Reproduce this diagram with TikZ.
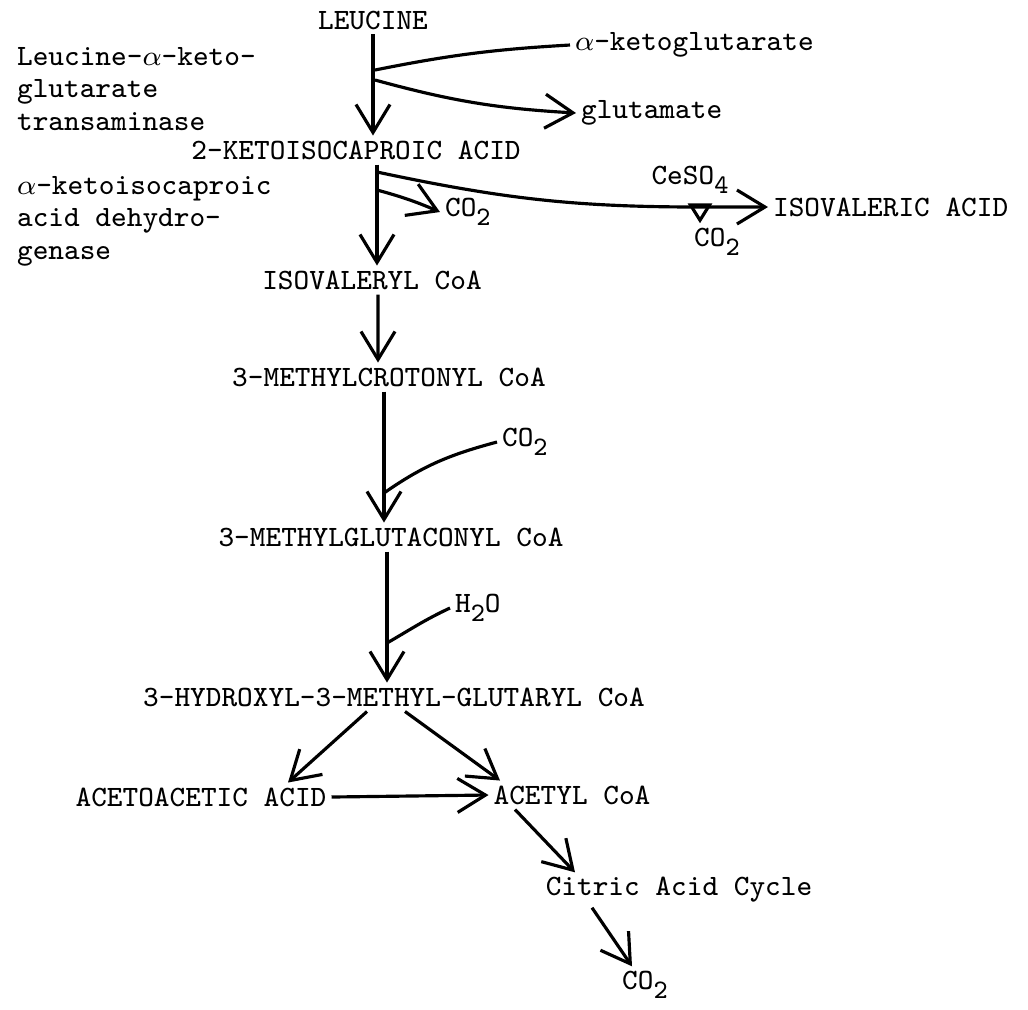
\documentclass[tikz,border=0pt]{standalone}
\usetikzlibrary{arrows.meta}
\newcommand{\lowsub}[1]{\raisebox{-0.7ex}{\fontsize{7.6}{8}\selectfont #1}}
\begin{document}
\begin{tikzpicture}[>={Straight Barb[length=2.8mm,width=3.4mm]}, line width=0.9pt,
    every node/.style={font=\fontsize{8.4}{9.2}\selectfont\ttfamily, inner sep=1pt}]
    \useasboundingbox (0,0) rectangle (10.28,-10.09);
    % main chain
    \node (leu) at (3.73,-0.20){LEUCINE};
    \node (keto) at (3.56,-1.50){2-KETOISOCAPROIC ACID};
    \node (isocoa) at (3.72,-2.80){ISOVALERYL CoA};
    \node (mcro) at (3.89,-3.77){3-METHYLCROTONYL CoA};
    \node (mglu) at (3.91,-5.37){3-METHYLGLUTACONYL CoA};
    \node (hmg) at (3.94,-6.97){3-HYDROXYL-3-METHYL-GLUTARYL CoA};
    \node (aceto) at (2.01,-7.97){ACETOACETIC ACID};
    \node (acetyl) at (5.72,-7.95){ACETYL CoA};
    \node (tca) at (6.79,-8.90){Citric Acid Cycle};
    \node (co2d) at (6.45,-9.85){CO\lowsub{2}};
    % side products
    \node (akg) at (5.70,-0.45)[right]{$\alpha$-ketoglutarate};
    \node (glu) at (5.76,-1.13)[right]{glutamate};
    \node (co2a) at (4.40,-2.12)[right]{CO\lowsub{2}};
    \node (isoac) at (7.68,-2.07)[right]{ISOVALERIC ACID};
    \node (ceso) at (6.90,-1.80){CeSO\lowsub{4}};
    \node (co2b) at (7.17,-2.42){CO\lowsub{2}};
    \node (co2c) at (4.97,-4.42)[right]{CO\lowsub{2}};
    \node (h2o) at (4.50,-6.08)[right]{H\lowsub{2}O};
    % enzymes
    \node (enza) at (0.12,-0.89)[right, align=left]{Leucine-$\alpha$-keto-\\glutarate\\transaminase};
    \node (enzb) at (0.12,-2.21)[right, align=left]{$\alpha$-ketoisocaproic\\acid dehydro-\\genase};
    % branch points
    \coordinate (b1) at (3.75,-0.70);
    \coordinate (b2) at (3.75,-0.80);
    \coordinate (b3) at (3.77,-1.72);
    \coordinate (b4) at (3.77,-1.90);
    \coordinate (b5) at (7.00,-2.07);
    \coordinate (b6) at (3.84,-4.93);
    \coordinate (b7) at (3.87,-6.43);
    % arrows
    \draw[->] (leu.south) -- (leu.south |- keto.north);
    \draw (b1) to[bend left=4] (akg.west);
    \draw[->] (b2) to[bend right=6] (glu.west);
    \draw[->] (b3 |- keto.south) -- (b3 |- isocoa.north);
    \draw[->] (b4) to[bend left=4] (co2a.west);
    \draw[->] (b3) to[out=-12, in=180] (b5) -- (isoac.west);
    \draw[-{Triangle[open,length=2mm,width=2.4mm]}] (b5) -- (b5 |- co2b.north);
    \draw[->] ([xshift=0.6mm]isocoa.south) -- ([xshift=-1.1mm]mcro.north);
    \draw[->] (mcro.south -| b6) -- (mglu.north -| b6);
    \draw (b6) to[out=35, in=195] (co2c.west);
    \draw[->] (mglu.south -| b7) -- (hmg.north -| b7);
    \draw (b7) to[out=30, in=205] (h2o.west);
    \draw[->] ([xshift=-2.7mm]hmg.south) -- ([xshift=8.7mm]aceto.north);
    \draw[->] ([xshift=1.1mm]hmg.south) -- ([xshift=-7.2mm]acetyl.north);
    \draw[->] (aceto.east) -- (acetyl.west);
    \draw[->] ([xshift=-5.7mm]acetyl.south) -- ([xshift=-10.4mm]tca.north);
    \draw[->] ([xshift=-8.7mm]tca.south) -- ([xshift=-1.3mm]co2d.north);
\end{tikzpicture}
\end{document}
